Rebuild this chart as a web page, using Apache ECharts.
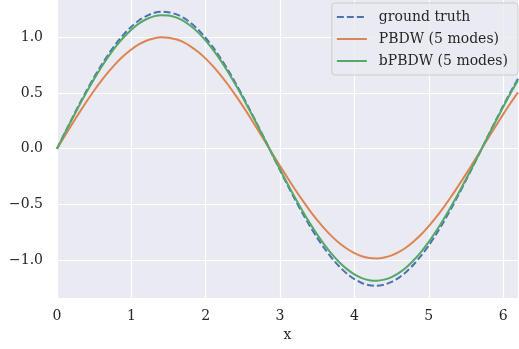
<!DOCTYPE html>
<html>
<head>
<meta charset="utf-8">
<script src="https://cdn.jsdelivr.net/npm/echarts@6/dist/echarts.min.js"></script>
<style>html,body{margin:0;padding:0;background:#fff}#c{width:519px;height:349px}</style>
</head>
<body>
<div id="c"></div>
<script>
const xValues = [0,0.1,0.2,0.3,0.4,0.5,0.6,0.7,0.8,0.9,
  1.0,1.1,1.2,1.3,1.4,1.5,1.6,1.7,1.8,1.9,
  2.0,2.1,2.2,2.3,2.4,2.5,2.6,2.7,2.8,2.9,
  3.0,3.1,3.2,3.3,3.4,3.5,3.6,3.7,3.8,3.9,
  4.0,4.1,4.2,4.3,4.4,4.5,4.6,4.7,4.8,4.9,
  5.0,5.1,5.2,5.3,5.4,5.5,5.6,5.7,5.8,5.9,
  6.0,6.1,6.2];
const groundTruth = [0,0.135,0.268,0.399,0.524,0.643,0.754,0.856,0.948,1.028,
  1.096,1.151,1.191,1.218,1.229,1.226,1.208,1.176,1.128,1.068,
  0.994,0.909,0.812,0.706,0.591,0.469,0.342,0.210,0.076,-0.060,
  -0.194,-0.326,-0.454,-0.577,-0.693,-0.800,-0.898,-0.985,-1.060,-1.122,
  -1.170,-1.205,-1.225,-1.230,-1.220,-1.196,-1.157,-1.104,-1.037,-0.958,
  -0.868,-0.767,-0.657,-0.538,-0.414,-0.284,-0.151,-0.016,0.119,0.253,
  0.383,0.509,0.629];
const pbdw = [0,0.110,0.218,0.324,0.426,0.523,0.613,0.696,0.771,0.836,
  0.891,0.936,0.969,0.990,1.000,0.997,0.982,0.956,0.917,0.868,
  0.809,0.739,0.661,0.574,0.481,0.382,0.278,0.171,0.062,-0.048,
  -0.155,-0.261,-0.364,-0.462,-0.555,-0.641,-0.719,-0.789,-0.849,-0.898,
  -0.937,-0.965,-0.981,-0.985,-0.977,-0.957,-0.926,-0.884,-0.830,-0.768,
  -0.695,-0.614,-0.526,-0.431,-0.331,-0.228,-0.121,-0.013,0.096,0.203,
  0.308,0.410,0.506];
const bpbdw = [0,0.132,0.262,0.389,0.511,0.627,0.736,0.835,0.925,1.003,
  1.069,1.123,1.162,1.188,1.199,1.196,1.179,1.147,1.101,1.042,
  0.970,0.887,0.793,0.689,0.577,0.458,0.333,0.205,0.074,-0.057,
  -0.187,-0.314,-0.438,-0.556,-0.668,-0.771,-0.865,-0.949,-1.021,-1.081,
  -1.128,-1.161,-1.180,-1.185,-1.175,-1.152,-1.114,-1.063,-0.999,-0.923,
  -0.836,-0.739,-0.633,-0.519,-0.399,-0.274,-0.146,-0.016,0.116,0.246,
  0.374,0.497,0.614];
const seriesNames = ['ground truth','PBDW (5 modes)','bPBDW (5 modes)'];
const xTicks = [0,1,2,3,4,5,6];
const yTicks = [-1.0,-0.5,0.0,0.5,1.0];

const FONT = 'DejaVu Serif';
const FS = 14;
const pair = (ys) => xValues.map((x,i)=>[x, ys[i]]);
const chart = echarts.init(document.getElementById('c'), null, {renderer:'canvas'});
chart.setOption({
  animation:false,
  backgroundColor:'#ffffff',
  grid:{left:57,right:1,top:0,bottom:51,show:true,backgroundColor:'#EAEAF2',borderWidth:0},
  xAxis:{type:'value',min:0,max:6.2,interval:1,
    name:'x',nameLocation:'middle',nameGap:30,
    nameTextStyle:{fontFamily:FONT,fontSize:FS,color:'#262626'},
    axisLine:{show:false},axisTick:{show:false},
    splitLine:{show:true,lineStyle:{color:'#ffffff',width:1.2}},
    axisLabel:{fontFamily:FONT,fontSize:FS,color:'#262626',margin:11,showMaxLabel:false,
      formatter:(v)=> xTicks.includes(v) ? String(v) : ''}
  },
  yAxis:{type:'value',min:-1.34,max:1.335,
    axisLine:{show:false},
    axisTick:{show:false,customValues:yTicks},
    splitLine:{show:true,lineStyle:{color:'#ffffff',width:1.2}},
    axisLabel:{fontFamily:FONT,fontSize:FS,color:'#262626',margin:14,customValues:yTicks,
      formatter:(v)=> Number(v).toFixed(1).replace('-','\u2212')}
  },
  legend:{orient:'vertical',right:1,top:3,
    padding:[7,10,7,4],itemGap:8,itemWidth:30,itemHeight:14,
    backgroundColor:'rgba(234,234,242,0.8)',borderColor:'#cccccc',borderWidth:1,borderRadius:3,
    itemStyle:{opacity:0},
    textStyle:{fontFamily:FONT,fontSize:FS,color:'#262626',padding:[0,0,0,7]},
    data:seriesNames
  },
  series:[
    {name:seriesNames[0],type:'line',data:pair(groundTruth),smooth:0.3,showSymbol:false,symbol:'none',
      lineStyle:{color:'#4C72B0',width:2,type:[7,3]},itemStyle:{color:'#4C72B0'},z:2},
    {name:seriesNames[1],type:'line',data:pair(pbdw),smooth:0.3,showSymbol:false,symbol:'none',
      lineStyle:{color:'#DD8452',width:2},itemStyle:{color:'#DD8452'},z:3},
    {name:seriesNames[2],type:'line',data:pair(bpbdw),smooth:0.3,showSymbol:false,symbol:'none',
      lineStyle:{color:'#55A868',width:2},itemStyle:{color:'#55A868'},z:4}
  ]
});
</script>
</body>
</html>
